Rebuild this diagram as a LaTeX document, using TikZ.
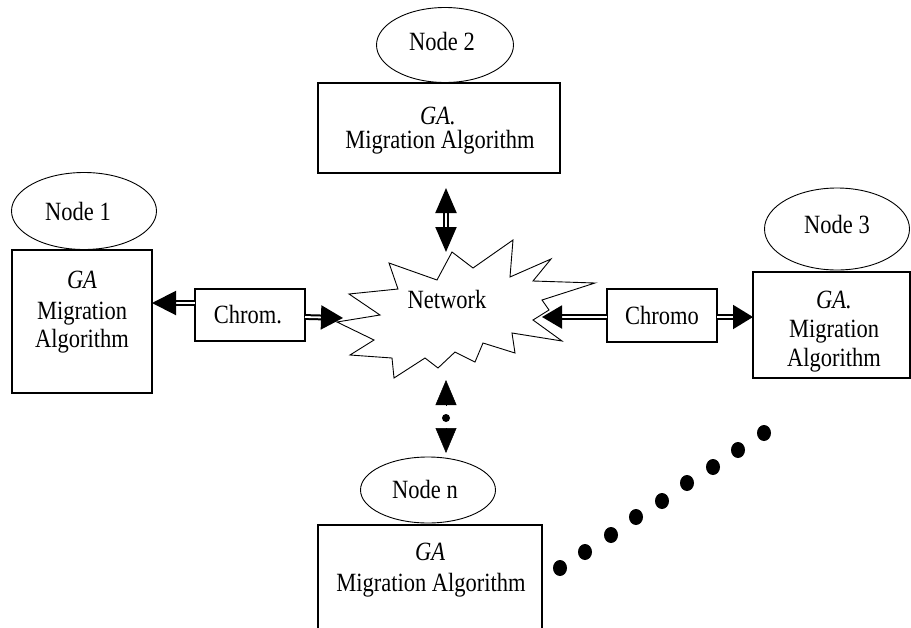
\documentclass[tikz,border=0pt]{standalone}
\usepackage{graphicx}
\usepackage{fontspec}
\setmainfont{Liberation Serif}
\usetikzlibrary{arrows.meta, shapes.geometric}
\newcommand{\vs}[1]{\scalebox{1}[1.17]{#1}}

\begin{document}
\begin{tikzpicture}[x=1pt,y=-1pt,
  box/.style={draw, line width=1.2pt, rectangle, inner sep=0pt, outer sep=0pt},
  oval/.style={draw, line width=0.9pt, ellipse, inner sep=0pt, outer sep=0pt},
  txt/.style={inner sep=0pt, anchor=base, font=\fontsize{22.5}{24}\selectfont},
  dbl/.style={double, line width=2pt, double distance=1.8pt},
  hd/.style={line width=0.5pt, -{Triangle[length=25pt,width=21pt]}},
  dot/.style={fill=black}
]
\useasboundingbox (0,0) rectangle (911,627);
\clip (0,0) rectangle (911,627);

% network starburst
\draw[line width=0.9pt, fill=white] (452,252) -- (473,268) -- (513,240) -- (510,277) -- (551,259) -- (533,281) -- (595,283) -- (542,300) -- (549,310) -- (533,320) -- (562,341) -- (512,333) -- (515,353) -- (483,343) -- (475,362) -- (455,352) -- (438,368) -- (425,358) -- (394,378) -- (392,358) -- (350,355) -- (374,340) -- (337,322) -- (380,315) -- (349,294) -- (398,289) -- (389,263) -- (437,280) -- cycle;
\node[txt] (net) at (447,308) {\vs{Network}};
\coordinate (netL) at (343,318);
\coordinate (netR) at (542,317);
\coordinate (netT) at (446,252);
\coordinate (netB) at (446,380);

% node 1
\node[oval, minimum width=145pt, minimum height=77pt] (e1) at (84,211) {};
\node[txt] (t1) at (78,220) {\vs{Node 1}};
\node[box, minimum width=140pt, minimum height=143pt] (b1) at (82,321.5) {};
\node[txt] (g1) at (82,288) {\vs{\itshape GA}};
\node[txt] (m1) at (82,319) {\vs{Migration}};
\node[txt] (a1) at (82,347) {\vs{Algorithm}};

% node 2
\node[oval, minimum width=137pt, minimum height=75pt] (e2) at (445,45) {};
\node[txt] (t2) at (442,50) {\vs{Node 2}};
\node[box, minimum width=242pt, minimum height=90pt] (b2) at (439,128) {};
\node[txt] (g2) at (438,124) {\vs{\itshape GA.}};
\node[txt] (m2) at (440,148) {\vs{Migration Algorithm}};

% node 3
\node[oval, minimum width=145pt, minimum height=82pt] (e3) at (837,229) {};
\node[txt] (t3) at (837,233) {\vs{Node 3}};
\node[box, minimum width=157pt, minimum height=106pt] (b3) at (831.5,325) {};
\node[txt] (g3) at (834,308) {\vs{\itshape GA.}};
\node[txt] (m3) at (834,337) {\vs{Migration}};
\node[txt] (a3) at (834,366) {\vs{Algorithm}};

% node n
\node[oval, minimum width=135pt, minimum height=66pt] (en) at (428,490) {};
\node[txt] (tn) at (425,498) {\vs{Node n}};
\node[box, minimum width=224pt, minimum height=115pt] (bn) at (430,582.5) {};
\node[txt] (gn) at (430,560) {\vs{\itshape GA}};
\node[txt] (mn) at (431,591) {\vs{Migration Algorithm}};

% chromosome boxes
\node[box, minimum width=110pt, minimum height=52pt] (c1) at (250,315) {};
\node[txt] (ct1) at (248,323) {\vs{Chrom.}};
\node[box, minimum width=110pt, minimum height=53pt] (c3) at (662,315.5) {};
\node[txt] (ct3) at (662,324) {\vs{Chromo}};

% arrows left
\draw[dbl, -{Triangle[length=24pt,width=24pt]}] ([yshift=12pt]c1.west) -- ([yshift=12pt]c1.west -| b1.east);
\draw[dbl, -{Triangle[length=22pt,width=24pt]}] ([yshift=-2pt]c1.east) -- (netL);
% arrows right
\draw[dbl, -{Triangle[length=20pt,width=23pt]}] ([yshift=-1.5pt]c3.west) -- (netR);
\draw[dbl, -{Triangle[length=20pt,width=24pt]}] ([yshift=-1.5pt]c3.east) -- ([yshift=-1.5pt]c3.east -| b3.west);

% top double arrow
\coordinate (topA) at (446,188);
\draw[dbl, {Triangle[length=25pt,width=21pt]}-{Triangle[length=25pt,width=21pt]}] (topA) -- (netT);

% bottom arrow heads with dot
\coordinate (bu) at (446,405);
\coordinate (bd) at (446,428);
\coordinate (bnT) at (446,453);
\draw[hd] (bu) -- (netB);
\draw[hd] (bd) -- (bnT);
\fill (446,418) circle[radius=4pt];

% dotted continuation
\foreach \px/\py in {560/568, 585/552, 611/535, 636/517, 662/501, 687/483, 713/467, 738/450, 764/433}
  \fill[dot] (\px,\py) ellipse[x radius=7pt, y radius=8pt];
\end{tikzpicture}
\end{document}
